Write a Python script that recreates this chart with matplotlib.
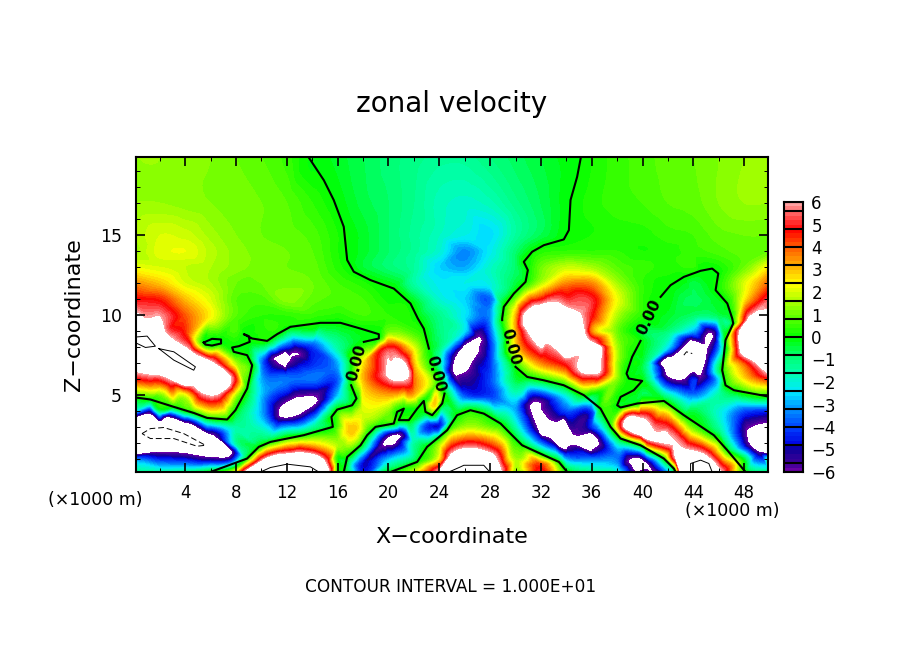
import numpy as np
import matplotlib
matplotlib.use("Agg")
import matplotlib.pyplot as plt
import matplotlib.tri as mtri
from matplotlib.colors import LinearSegmentedColormap, Normalize
from matplotlib.path import Path

x_km = [0, 2, 4, 6, 8, 10, 12, 14, 16, 18, 20, 22, 24, 26, 28, 30, 32, 34, 36, 38, 40, 42, 44, 46, 48, 50]
z_km = [0.2, 1, 2, 3, 4, 5, 6, 7, 8, 9, 10, 11, 12, 13, 14, 15, 17, 19.9]

# zonal velocity, bottom row first, 8 = off the scale (white)
u_rows = [
    [-1.2, -1.5, -1.2, 0, 2.5, 8, 8, 8, 0, -4.6, 0, 1.8, 5, 8, 7, 1.5, 5, 0, -1.2, -2, -5.5, -3, 8, 8, 0, -1],
    [-3.5, -4, -4.5, -3.5, -0.5, 3, 5, 6, 0, -3.5, -2.5, -0.5, 2.5, 6.5, 5, 1.5, 0.5, -3, -3.5, -3.5, 8, -3, 8, 8, -0.5, -1.5],
    [8, 8, 8, 8, -1.5, -0.1, 2, 2.5, 1.5, -0.3, 7, -1.5, 1.2, 4, 4, 1.5, -3.5, 8, 8, -2.5, 1, 5, 7, 1, -3, 8],
    [8, 8, 8, -6, -1.5, -2, -3, -1.5, 0.3, 1.8, -2.5, -2.5, -4.6, 1.5, 1, 0.2, -4.4, 8, -4.4, -1.5, 8, 4.8, 0.8, -1.5, -4.4, 8],
    [-2.5, -1, -0.2, 0.6, -0.3, -3, 8, 8, 0, 2, 1.2, 0.3, -3, 0.2, -0.8, -3, 8, -4, -4.2, -0.3, 3, 2, -0.5, -2, -4, -4.4],
    [-0.2, 1, 2, 4.4, 1.5, -2.8, -4.4, -4.4, -2.8, 2.5, 3.2, 3, 1.5, -4, -4.2, -2, -1.8, -2, -0.5, 0.5, -0.6, -1.5, -3.5, -1.5, -0.3, -0.1],
    [4.5, 5, 5.3, 7, 3, -3, -3.5, -3.5, -3.8, 3, 3.8, 3, 0, -4.4, -4, -0.5, 2, 3.2, 4.4, 1.2, -0.6, -3.5, -4.4, -2.5, 2.5, 4.5],
    [8, 8, 8, 7, 1.5, -3.5, -4.4, -4.4, -3, 2.5, 8, 3, -1.5, 8, -4.2, 0.5, 3.5, 5, 8, 1.5, -0.5, -2.8, 8, -3.5, 4, 6.5],
    [8, 8, 8, 3.5, 0.8, -0.2, -4.4, -4.2, -1.5, 1, 4.8, 2, -1, -3, -4.4, 2.5, 7, 8, 7, 1.5, -0.3, -2.5, 8, -3.5, 5, 8],
    [8, 8, 4.4, 1.6, 0.6, 0.3, -0.1, -0.5, -0.5, -0.1, 1, 0.5, -1, -2.5, -3.8, 3, 8, 8, 3.5, 1, -0.5, -1, -3, -2.5, 5.5, 8],
    [7, 5.8, 4, 2.4, 0.8, 0.4, 0.4, 0.5, 0.5, 0.6, 0.4, 0.1, -1.2, -2.4, -3.2, 3, 8, 8, 4.8, 1.6, 0.3, -0.3, -0.8, -0.6, 3.5, 7],
    [4.8, 4.5, 3, 2, 0.8, 0.7, 1.3, 0.9, 0.7, 0.6, 0.1, -0.8, -2, -2.6, -3.7, 0.1, 4.6, 4.8, 5, 2.2, 0.4, 0, -0.7, -0.2, 2.4, 5.5],
    [3.5, 2.9, 2, 1.6, 1, 1, 1.1, 1, 0.6, 0.25, 0, -1.5, -2.3, -2.2, -2.1, -0.5, 1.6, 3.5, 3.5, 1.5, 0.4, 0, -0.5, 0.1, 2, 4],
    [2.2, 2, 1.8, 1.6, 1.3, 1.1, 1, 0.9, 0.3, -0.4, -0.9, -1.4, -2.6, -3, -1.9, -0.8, 1, 1.8, 1.5, 0.8, 0.5, 0.3, 0.4, 0.4, 1, 2.5],
    [1.5, 2.1, 2.2, 1.7, 1.3, 1.1, 1, 0.8, 0.2, -0.3, -0.8, -1.3, -2, -3.3, -2.3, -0.9, 0.1, 0.4, 0.4, 0.4, 0.2, 0.3, 0.5, 0.7, 0.9, 1],
    [1.6, 2, 1.9, 1.5, 1.2, 1, 0.9, 0.7, 0.2, -0.3, -0.8, -1.3, -1.8, -2.2, -2.5, -1.4, -0.6, -0.1, 0.2, 0.3, 0.3, 0.5, 0.6, 0.9, 1, 1],
    [1.4, 1.4, 1.3, 1.2, 1.1, 1, 0.8, 0.4, -0.1, -0.5, -0.8, -1.2, -1.7, -1.9, -1.7, -1.1, -0.6, 0, 0.3, 0.5, 0.6, 0.8, 0.9, 1.2, 1.4, 1.4],
    [1.4, 1.4, 1.3, 1.2, 1, 0.8, 0.5, 0, -0.3, -0.6, -0.9, -1.1, -1.3, -1.3, -1, -0.7, -0.4, -0.1, 0.2, 0.5, 0.7, 0.9, 1, 1.2, 1.4, 1.5],
]

# a few more spot readings between the grid lines
spot_x = [31.9, 17.8, 17.1, 23.6, 42.07, 23.3, 20.0]
spot_z = [0.6, 0.6, 2.8, 4.37, 3.2, 3.1, 0.9]
spot_u = [4.5, -4.6, 3.0, 2.8, 4.5, -4.6, -2.5]

# zero contour pieces (x, z in km)
zero_lines = [
    ([13.7, 14.91, 15.69, 16.48, 16.75, 17.27, 18.58, 20.42, 21.73, 22.31, 22.78, 23.18],
     [19.88, 18.43, 17.19, 15.52, 13.44, 12.71, 12.19, 11.66, 10.73, 9.79, 9.16, 7.91]),
    ([0.13, 1.26, 3.1, 4.67, 5.72, 7.3, 7.95, 8.87, 9.27, 8.87, 7.82, 7.69, 8.22, 9.08, 9.0, 8.61, 9.27, 10.45, 11.23,
      12.28, 14.65, 16.22, 17.8, 19.24, 19.24, 18.06],
     [4.85, 4.73, 4.27, 3.89, 3.58, 3.48, 4.06, 5.41, 6.87, 7.5, 7.71, 7.98, 8.06, 8.33, 8.69, 8.81, 8.54, 8.39, 8.81,
      9.27, 9.52, 9.52, 9.16, 8.81, 8.54, 8.33]),
    ([17.06, 17.48, 17.14, 15.96, 15.51, 15.62, 13.33, 10.71, 9.79, 8.87, 5.98],
     [5.62, 4.79, 4.37, 4.1, 3.64, 3.02, 2.5, 2.08, 1.77, 1.04, 0.2]),
    ([5.46, 6.11, 6.82, 6.82, 6.11, 5.59, 5.46], [8.29, 8.52, 8.48, 8.23, 8.1, 8.16, 8.29]),
    ([16.48, 16.75, 17.8, 18.32, 18.98, 20.42, 20.68, 21.21, 20.81, 21.6, 22.26, 22.78, 22.91, 23.44, 24.23, 24.41],
     [0.2, 1.14, 1.87, 2.5, 3.02, 3.23, 3.96, 4.16, 3.44, 3.44, 4.16, 4.64, 3.96, 3.75, 4.48, 5.1]),
    ([20.16, 22.26, 23.04, 24.62, 25.4, 26.45, 27.5, 28.82, 29.6, 30.52, 32.23, 33.41, 34.07],
     [0.2, 0.83, 1.77, 2.81, 3.75, 4.06, 3.85, 3.23, 2.6, 1.87, 1.25, 0.83, 0.2]),
    ([30.0, 30.92, 32.23, 33.8, 35.38, 36.69, 37.48, 38.27, 39.84, 41.68, 42.47, 42.6],
     [6.77, 6.14, 5.93, 5.62, 5.0, 4.16, 3.02, 2.29, 1.87, 1.04, 0.41, 0.2]),
    ([35.15, 34.85, 34.33, 34.2, 33.8, 32.23, 31.31, 30.65, 30.97, 30.79, 29.87, 29.08, 28.95, 28.95],
     [19.88, 18.64, 17.19, 15.31, 14.73, 14.37, 13.96, 13.33, 12.81, 12.08, 11.35, 10.52, 9.79, 9.69]),
    ([41.42, 42.2, 43.25, 44.57, 45.48, 45.96, 45.75, 46.67, 47.06, 47.14, 46.53, 46.27, 46.53, 47.19, 49.81],
     [11.14, 11.87, 12.39, 12.77, 12.91, 12.6, 11.56, 10.73, 9.79, 9.48, 8.44, 6.56, 5.62, 5.31, 4.93]),
    ([39.84, 39.18, 38.74, 38.92, 39.97, 39.31, 38.27, 38.0, 38.27, 39.58, 41.68, 43.25, 45.61, 46.67, 48.11],
     [8.39, 7.39, 6.35, 6.04, 5.89, 5.31, 4.89, 4.37, 4.23, 4.48, 4.64, 3.75, 2.5, 1.56, 0.2]),
]

# outlines of the white patches, where u leaves the +6 / -6 colour range
high_patches = [
    ([0.0, 1.26, 2.31, 2.83, 4.41, 5.98, 7.56, 7.43, 6.51, 5.33, 4.67, 2.83, 1.26, 0.0],
     [10.06, 9.69, 9.06, 8.54, 7.71, 7.08, 6.04, 5.62, 5.1, 5.21, 5.62, 6.04, 6.35, 6.56]),
    ([19.9, 20.29, 20.81, 21.34, 21.55, 21.2, 20.42, 19.95], [6.46, 7.08, 7.23, 6.87, 6.35, 5.98, 5.98, 6.25]),
    ([8.74, 10.18, 12.02, 13.86, 15.04, 15.3], [0.2, 0.94, 1.31, 1.31, 0.73, 0.2]),
    ([23.96, 24.88, 26.45, 28.03, 28.69, 28.82], [0.2, 1.2, 1.66, 1.35, 0.62, 0.2]),
    ([30.65, 31.44, 32.75, 34.07, 35.12, 35.38, 35.9, 36.69, 36.56, 35.25, 35.12, 32.75, 31.05, 30.65],
     [9.89, 10.52, 10.77, 10.41, 9.89, 8.96, 8.33, 7.18, 6.46, 6.46, 7.5, 8.23, 8.96, 9.48]),
    ([38.53, 39.05, 39.84, 40.76, 41.41, 40.37, 39.18], [3.12, 3.64, 3.54, 2.81, 2.08, 2.29, 2.71]),
    ([42.47, 43.51, 45.09, 46.14, 43.0, 42.6], [1.98, 1.56, 1.14, 0.2, 0.2, 1.14]),
    ([50.0, 48.9, 48.37, 47.71, 47.71, 50.0], [10.35, 10.1, 9.79, 9.06, 7.81, 6.35]),
]
low_patches = [
    ([0.0, 1.26, 2.57, 4.41, 6.25, 7.69, 7.43, 5.98, 3.88, 2.05, 0.0],
     [3.6, 3.85, 3.64, 3.23, 2.5, 1.46, 1.14, 1.14, 1.39, 1.46, 1.31]),
    ([10.97, 11.5, 12.68, 12.28, 11.23], [7.29, 7.56, 7.64, 7.29, 7.08]),
    ([11.36, 12.02, 13.07, 14.25, 14.38, 13.33, 12.15, 11.5], [3.96, 4.58, 4.89, 4.85, 4.58, 3.96, 3.6, 3.64]),
    ([19.63, 20.29, 20.89, 20.68, 20.0], [2.08, 2.5, 2.54, 2.14, 1.87]),
    ([25.09, 25.27, 26.19, 27.11, 27.11, 26.59, 25.8], [6.46, 7.39, 8.23, 8.6, 7.91, 7.08, 6.39]),
    ([31.18, 31.76, 31.97, 33.02, 34.59, 36.3, 36.56, 36.17, 34.33, 32.75, 31.57, 31.31],
     [4.37, 4.58, 4.06, 3.33, 2.5, 2.44, 2.08, 1.66, 1.87, 2.29, 3.23, 3.85]),
    ([38.92, 39.58, 40.37, 40.89, 39.58, 39.18], [0.94, 1.1, 0.73, 0.2, 0.2, 0.52]),
    ([41.76, 42.2, 43.78, 45.48, 45.09, 44.57, 43.25, 41.94], [6.56, 7.39, 8.44, 8.85, 7.81, 6.25, 6.0, 6.2]),
    ([48.24, 48.63, 50.0, 50.0, 49.2, 48.5], [2.5, 3.02, 3.23, 1.35, 1.46, 1.87]),
]

# +10 contours (solid) and -10 contours (dashed)
plus_lines = [
    ([0.21, 1.0, 1.65, 0.87, 0.21], [8.64, 8.69, 8.06, 7.98, 8.23]),
    ([1.92, 3.1, 4.8, 4.67, 3.1, 1.92], [7.91, 7.71, 6.77, 6.56, 7.19, 7.91]),
    ([9.92, 10.71, 12.02, 13.86, 14.51], [0.2, 0.48, 0.69, 0.52, 0.2]),
    ([24.75, 25.67, 25.93, 27.5, 27.98], [0.2, 0.52, 0.62, 0.62, 0.2]),
    ([43.78, 43.78, 44.57, 45.22, 45.48], [0.2, 0.73, 0.94, 0.73, 0.2]),
]
minus_lines = [
    ([0.6, 1.26, 2.31, 3.88, 5.59, 4.93, 3.1, 1.26, 0.6], [2.6, 2.91, 2.98, 2.6, 1.87, 1.81, 2.29, 2.29, 2.6]),
    ([43.25, 43.46, 43.91], [7.5, 7.71, 7.6]),
]

# label position, rotation
label_x = [17.5, 23.7, 29.6, 40.5]
label_z = [7.0, 6.3, 8.0, 9.9]
label_rot = [75, -75, -75, 65]

bar_edges = [6, 5.6, 4.8, 4.0, 3.2, 2.4, 1.6, 0.8, 0, -0.8, -1.6, -2.4, -3.2, -4.0, -4.8, -5.6, -6]
bar_labels = [6, 5, 4, 3, 2, 1, 0, -1, -2, -3, -4, -5, -6]

stop_values = [-6, -5.6, -5.0, -4.8, -4.0, -3.2, -2.4, -1.6, -0.8, 0, 0.8, 1.6, 2.4, 3.2, 4.0, 4.8, 5.6, 6]
stop_colors = ["#7000a8", "#3c0098", "#100098", "#0000e0", "#0040ff", "#0090ff", "#00e8ff", "#00ffb0", "#00ff70",
               "#00ff00", "#50ff00", "#a8ff00", "#ffff00", "#ffb000", "#ff6000", "#ff0000", "#ff6868", "#ffa8a8"]
cmap = LinearSegmentedColormap.from_list("zonal", [((v + 6) / 12, c) for v, c in zip(stop_values, stop_colors)], N=240)
cmap.set_over("white")
cmap.set_under("white")
norm = Normalize(-6, 6)
levels = np.arange(-6, 6.01, 0.2)

# samples: grid readings plus the traced zero lines and patch outlines
line_pts = [np.column_stack([spot_x, spot_z])]
line_vals = [np.array(spot_u)]
for lx, lz in zero_lines:
    line_pts.append(np.column_stack([lx, lz]))
    line_vals.append(np.zeros(len(lx)))
for patches, sign in ((high_patches, 1), (low_patches, -1)):
    for lx, lz in patches:
        line_pts.append(np.column_stack([lx, lz]))
        line_vals.append(np.full(len(lx), 6.1 * sign))
        # one point well inside, so the patch stays off the scale all over
        mid = np.array([[np.mean(lx), np.mean(lz)]])
        if Path(np.column_stack([lx, lz])).contains_points(mid)[0]:
            line_pts.append(mid)
            line_vals.append(np.array([8.0 * sign]))
line_pts = np.vstack(line_pts)
line_vals = np.concatenate(line_vals)

xx, zz = np.meshgrid(x_km, z_km)
grid_pts = np.column_stack([xx.ravel(), zz.ravel()])
grid_vals = np.array(u_rows, dtype=float).ravel()
dist = np.min(np.hypot(grid_pts[:, 0, None] - line_pts[:, 0], grid_pts[:, 1, None] - line_pts[:, 1]), axis=1)
keep = (dist > 0.6) & (np.abs(grid_vals) <= 6)
edge = (grid_pts[:, 0] <= 0) | (grid_pts[:, 0] >= 50) | (grid_pts[:, 1] <= 0.2) | (grid_pts[:, 1] >= 19.9)
keep = keep | (edge & (dist > 0.15) & (np.abs(grid_vals) <= 6))

# grid points inside a patch stay in as off-scale values
for patches, sign in ((high_patches, 1), (low_patches, -1)):
    for lx, lz in patches:
        inside = Path(np.column_stack([lx, lz])).contains_points(grid_pts) & (dist > 0.3)
        keep = keep & ~inside
        line_pts = np.vstack([line_pts, grid_pts[inside]])
        line_vals = np.concatenate([line_vals, np.full(inside.sum(), 8.0 * sign)])

all_pts = np.vstack([grid_pts[keep], line_pts])
all_vals = np.concatenate([grid_vals[keep], line_vals])
_, uniq = np.unique(np.round(all_pts, 2), axis=0, return_index=True)
all_pts = all_pts[uniq]
all_vals = all_vals[uniq]

fig = plt.figure(figsize=(9.04, 6.54), dpi=100)
W, H = 904, 654
ax = fig.add_axes([136 / W, (H - 472) / H, 632 / W, 315 / H])

tri = mtri.Triangulation(all_pts[:, 0], all_pts[:, 1])
interp = mtri.CubicTriInterpolator(tri, all_vals, kind="geom")
tri_fine, u_fine = mtri.UniformTriRefiner(tri).refine_field(all_vals, triinterpolator=interp, subdiv=3)
ax.tricontourf(tri_fine, u_fine, levels=levels, cmap=cmap, norm=norm, extend="both")

for lx, lz in zero_lines:
    ax.plot(lx, lz, color="black", lw=1.5)
for lx, lz in plus_lines:
    ax.plot(lx, lz, color="black", lw=0.7)
for lx, lz in minus_lines:
    ax.plot(lx, lz, color="black", lw=0.7, ls=(0, (6, 3)))
for tx, tz, rot in zip(label_x, label_z, label_rot):
    ax.text(tx, tz, "0.00", rotation=rot, ha="center", va="center", fontsize=11, fontweight="bold", rotation_mode="anchor")

ax.set_xlim(0.125, 49.875)
ax.set_ylim(0.2, 19.88)
ax.set_xticks(np.arange(4, 49, 4))
ax.set_xticks(np.arange(2, 50, 4), minor=True)
ax.set_yticks([5, 10, 15])
ax.set_yticks([v for v in range(1, 20) if v % 5], minor=True)
ax.tick_params(which="major", direction="in", top=True, right=True, length=6.5, width=1.2, labelsize=12, pad=9)
ax.tick_params(which="minor", direction="in", top=True, right=True, length=3.2, width=0.7)
ax.tick_params(axis="y", which="major", labelsize=12.5, pad=10)
for s in ax.spines.values():
    s.set_linewidth(1.5)
ax.set_xlabel("X\u2212coordinate", fontsize=16)
ax.xaxis.set_label_coords(0.5, -0.175)
ax.set_ylabel("Z\u2212coordinate", fontsize=16)
ax.yaxis.set_label_coords(-0.083, 0.5)

# colour bar
cax = fig.add_axes([784 / W, (H - 472) / H, 19 / W, 270 / H])
shades = np.linspace(-6, 6, 61)
cax.pcolormesh([0, 1], shades, ((shades[:-1] + shades[1:]) / 2)[:, None], cmap=cmap, norm=norm)
cax.hlines(bar_edges, 0, 1, color="black", lw=1.5)
cax.set_xlim(0, 1)
cax.set_ylim(-6, 6)
cax.set_xticks([])
cax.yaxis.tick_right()
cax.set_yticks(bar_labels)
cax.set_yticklabels([str(v).replace("-", "\u2212") for v in bar_labels], fontsize=12)
cax.tick_params(axis="y", length=0, pad=6)
for s in cax.spines.values():
    s.set_linewidth(1.5)

fig.text(452 / W, 1 - 104 / H, "zonal velocity", fontsize=20, ha="center", va="center")
fig.text(95.5 / W, 1 - 500 / H, "(\u00d71000 m)", fontsize=12.5, ha="center", va="center")
fig.text(732.5 / W, 1 - 511 / H, "(\u00d71000 m)", fontsize=12.5, ha="center", va="center")
fig.text(451 / W, 1 - 587 / H, "CONTOUR INTERVAL = 1.000E+01", fontsize=12.2, ha="center", va="center")

fig.savefig("out.png", dpi=100)
